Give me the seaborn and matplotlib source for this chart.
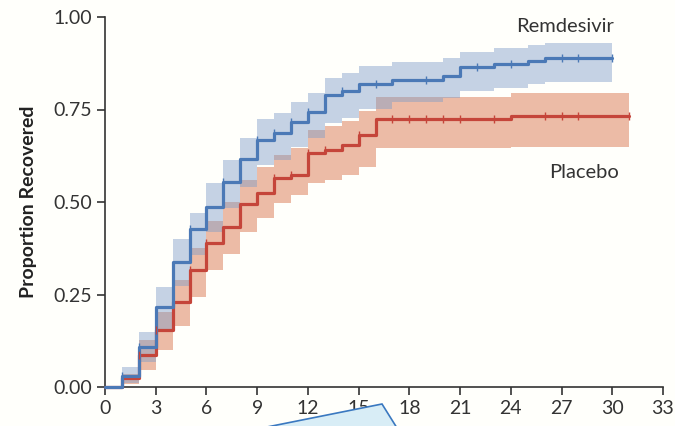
import numpy as np
import seaborn as sns
import matplotlib.pyplot as plt
from matplotlib.patches import Polygon

# Kaplan-Meier style estimates (step changes at each day)
rem_day = [0, 1, 2, 3, 4, 5, 6, 7, 8, 9, 10, 11, 12, 13, 14, 15, 17, 20, 21, 23, 25, 26, 30]
rem_est = [0, 0.03, 0.108, 0.216, 0.338, 0.427, 0.487, 0.554, 0.615, 0.668, 0.686, 0.716,
           0.743, 0.789, 0.80, 0.82, 0.83, 0.84, 0.865, 0.873, 0.88, 0.89, 0.89]
rem_lo = [0, 0.012, 0.068, 0.149, 0.273, 0.357, 0.42, 0.484, 0.54, 0.60, 0.614, 0.65,
          0.673, 0.713, 0.727, 0.752, 0.77, 0.78, 0.80, 0.807, 0.82, 0.825, 0.825]
rem_hi = [0, 0.054, 0.15, 0.27, 0.40, 0.47, 0.55, 0.614, 0.673, 0.725, 0.74, 0.77,
          0.795, 0.835, 0.85, 0.868, 0.878, 0.89, 0.905, 0.915, 0.924, 0.93, 0.93]
rem_cens = [1, 2, 5, 7, 9, 10, 11, 12, 14, 16, 19, 22, 24, 27, 28, 30]

pla_day = [0, 1, 2, 3, 4, 5, 6, 7, 8, 9, 10, 11, 12, 13, 14, 15, 16, 24, 31]
pla_est = [0, 0.024, 0.086, 0.154, 0.23, 0.316, 0.389, 0.433, 0.495, 0.525, 0.565, 0.573,
           0.632, 0.64, 0.654, 0.68, 0.725, 0.733, 0.733]
pla_lo = [0, 0.008, 0.046, 0.10, 0.165, 0.243, 0.316, 0.36, 0.42, 0.457, 0.497, 0.518,
          0.55, 0.56, 0.573, 0.595, 0.646, 0.65, 0.65]
pla_hi = [0, 0.035, 0.127, 0.203, 0.289, 0.375, 0.45, 0.50, 0.56, 0.595, 0.627, 0.645,
          0.695, 0.705, 0.72, 0.745, 0.785, 0.795, 0.795]
pla_cens = [2, 3, 5, 6, 10, 11, 12, 13, 15, 17, 18, 19, 20, 21, 23, 26, 27, 28, 31]

x_ticks = list(range(0, 34, 3))
y_ticks = [0.0, 0.25, 0.5, 0.75, 1.0]

sns.set_style("ticks")
plt.rcParams['font.family'] = ['Lato', 'DejaVu Sans']

bg = '#fffffb'
fig = plt.figure(figsize=(6.75, 4.26), dpi=100, facecolor=bg)
ax = fig.add_axes([105 / 675, 1 - 387 / 426, 558 / 675, 370 / 426])
ax.set_facecolor(bg)


def step_at(days, vals, t):
    i = np.searchsorted(days, t, side='right') - 1
    return vals[i]


def draw_arm(days, est, lo, hi, cens, line_col, band_col, band_alpha):
    ax.fill_between(days, lo, hi, step='post', color=band_col, alpha=band_alpha,
                    linewidth=0, zorder=1)
    sns.lineplot(x=days, y=est, drawstyle='steps-post', color=line_col, lw=2.3,
                 ax=ax, zorder=3, estimator=None, sort=False, clip_on=False)
    cy = [step_at(np.array(days), np.array(est), c) for c in cens]
    ax.scatter(cens, cy, marker='|', s=30, color=line_col, linewidths=1.0, zorder=4)


draw_arm(pla_day, pla_est, pla_lo, pla_hi, pla_cens, '#c5453a', '#e08f6e', 0.6)
draw_arm(rem_day, rem_est, rem_lo, rem_hi, rem_cens, '#4b79b6', '#7f9dc8', 0.45)

ax.set_xlim(0, 33)
ax.set_ylim(0, 1)
ax.set_xticks(x_ticks)
ax.set_xticklabels([str(t) for t in x_ticks])
ax.set_yticks(y_ticks)
ax.set_yticklabels([f'{t:.2f}' for t in y_ticks])
ax.tick_params(axis='both', labelsize=14, colors='#333333', length=6, width=1.2, pad=3)
for side in ['top', 'right']:
    ax.spines[side].set_visible(False)
for side in ['left', 'bottom']:
    ax.spines[side].set_color('#333333')
    ax.spines[side].set_linewidth(1.2)

ax.set_xlabel('')
ax.set_ylabel('Proportion Recovered', fontsize=14, fontweight='bold', color='#222222',
              labelpad=12)

ax.text(27.2, 0.975, 'Remdesivir', fontsize=14.5, color='#333333', ha='center', va='center')
ax.text(28.3, 0.58, 'Placebo', fontsize=14.5, color='#333333', ha='center', va='center')

# light blue callout wedge at the bottom edge
verts = [(262, 428), (382, 404), (397, 428)]
wedge = Polygon([(x / 675, 1 - y / 426) for x, y in verts], closed=True,
                transform=fig.transFigure, facecolor='#d8edf6', edgecolor='#3a78c0',
                linewidth=1.2, zorder=5)
fig.patches.append(wedge)

fig.savefig('out.png', dpi=100, facecolor=bg)
